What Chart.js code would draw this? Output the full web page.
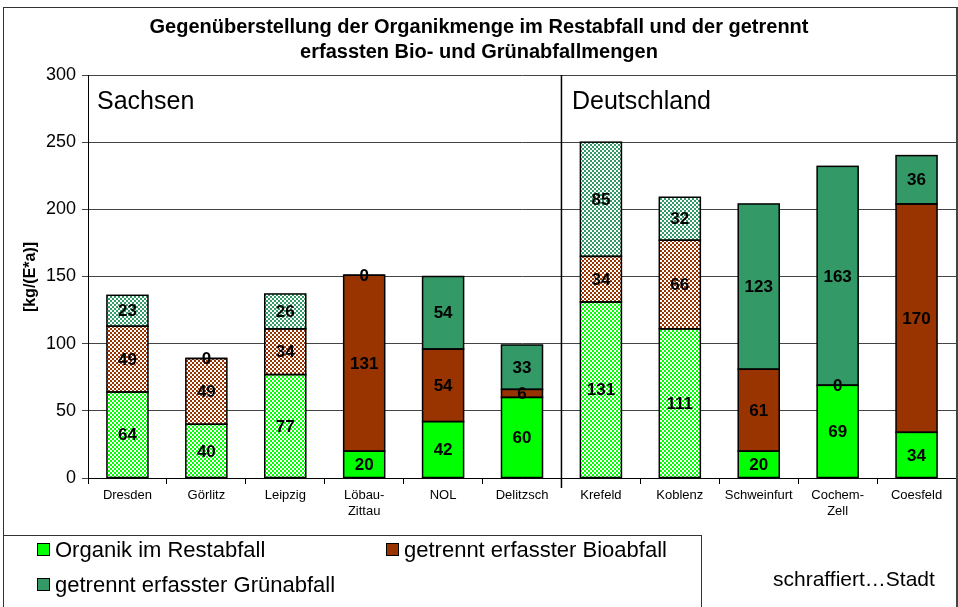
<!DOCTYPE html>
<html>
<head>
<meta charset="utf-8">
<script src="https://cdn.jsdelivr.net/npm/chart.js@4.4.1/dist/chart.umd.min.js"></script>
<style>
  body { margin: 0; background: #fff; font-family: Arial, "Liberation Sans", sans-serif; }
  #wrap { position: relative; width: 958px; height: 607px; overflow: hidden; }
  #chart { position: absolute; left: 0; top: 0; }
  .frame { position: absolute; left: 3px; top: 7px; width: 952px; height: 620px; border: 1px solid #333; border-right: 3px solid #444; }
  .title { position: absolute; left: 0; width: 958px; text-align: center; font-weight: bold; font-size: 20px; line-height: 25px; top: 14px; }
  .ytitle { position: absolute; left: 30px; top: 277px; transform: translate(-50%, -50%) rotate(-90deg); font-weight: bold; font-size: 16px; white-space: nowrap; }
  .region { position: absolute; font-size: 25px; line-height: 25px; }
  .legend { position: absolute; left: 3px; top: 535px; width: 697px; height: 80px; border: 1px solid #333; background: #fff; }
  .item { position: absolute; font-size: 22px; line-height: 24px; white-space: nowrap; }
  .item span { display: inline-block; width: 11px; height: 11px; border: 1px solid #000; margin-right: 5px; vertical-align: 1px; }
  .note { position: absolute; left: 773px; top: 567px; font-size: 21px; line-height: 24px; white-space: nowrap; }
</style>
</head>
<body>
<div id="wrap">
  <canvas id="chart" width="958" height="607"></canvas>
  <div class="frame"></div>
  <div class="title">Gegenüberstellung der Organikmenge im Restabfall und der getrennt<br>erfassten Bio- und Grünabfallmengen</div>
  <div class="ytitle">[kg/(E*a)]</div>
  <div class="region" style="left:97px;top:88px;">Sachsen</div>
  <div class="region" style="left:572px;top:88px;">Deutschland</div>
  <div class="legend">
    <div class="item" style="left:33px;top:2px;"><span style="background:#00ff00"></span>Organik im Restabfall</div>
    <div class="item" style="left:382px;top:2px;"><span style="background:#993300"></span>getrennt erfasster Bioabfall</div>
    <div class="item" style="left:33px;top:37px;"><span style="background:#339966"></span>getrennt erfasster Grünabfall</div>
  </div>
  <div class="note">schraffiert…Stadt</div>
</div>
<script>
// Kategorien und Werte (kg pro Einwohner und Jahr)
const cities = ["Dresden", "Görlitz", "Leipzig", ["Löbau-", "Zittau"], "NOL", "Delitzsch",
                "Krefeld", "Koblenz", "Schweinfurt", ["Cochem-", "Zell"], "Coesfeld"];
const organik = [64, 40, 77, 20, 42, 60, 131, 111, 20, 69, 34];
const bioabfall = [49, 49, 34, 131, 54, 6, 34, 66, 61, 0, 170];
const gruenabfall = [23, 0, 26, 0, 54, 33, 85, 32, 123, 163, 36];
// schraffiert = Stadt
const isCity = [true, true, true, false, false, false, true, true, false, false, false];
const yTicks = [0, 50, 100, 150, 200, 250, 300];

const canvas = document.getElementById("chart");
const ctx = canvas.getContext("2d");

function checker(color) {
    const c = document.createElement("canvas");
    c.width = 4; c.height = 4;
    const g = c.getContext("2d");
    g.fillStyle = color;
    g.fillRect(0, 0, 4, 4);
    g.fillStyle = "#ffffff";
    g.fillRect(0, 0, 2, 2);
    g.fillRect(2, 2, 2, 2);
    return ctx.createPattern(c, "repeat");
}

function fills(color) {
    const pat = checker(color);
    return isCity.map(h => h ? pat : color);
}

// schwarze Umrandung um jedes Segment + Werte mittig
const segLabels = {
    id: "segLabels",
    afterDatasetsDraw(chart) {
        const c = chart.ctx;
        c.save();
        c.strokeStyle = "#000";
        c.lineWidth = 1.5;
        chart.data.datasets.forEach((ds, i) => {
            chart.getDatasetMeta(i).data.forEach((bar) => {
                const p = bar.getProps(["x", "y", "base", "width"], true);
                c.strokeRect(p.x - p.width / 2, Math.min(p.y, p.base), p.width, Math.abs(p.base - p.y));
            });
        });
        c.font = "bold 17px Arial";
        c.fillStyle = "#000";
        c.textAlign = "center";
        c.textBaseline = "middle";
        chart.data.datasets.forEach((ds, i) => {
            chart.getDatasetMeta(i).data.forEach((bar, j) => {
                const p = bar.getProps(["x", "y", "base"], true);
                c.fillText(ds.data[j], p.x, (p.y + p.base) / 2 + 1);
            });
        });
        c.restore();
    }
};

// Trennlinie Sachsen / Deutschland
const divider = {
    id: "divider",
    afterDraw(chart) {
        const x = chart.scales.x;
        const px = (x.getPixelForValue(5) + x.getPixelForValue(6)) / 2;
        const c = chart.ctx;
        c.save();
        c.strokeStyle = "#000";
        c.lineWidth = 1.5;
        c.beginPath();
        c.moveTo(px, chart.chartArea.top);
        c.lineTo(px, chart.chartArea.bottom + 10);
        c.stroke();
        c.restore();
    }
};

new Chart(ctx, {
    type: "bar",
    data: {
        labels: cities,
        datasets: [
            { label: "Organik im Restabfall", data: organik, backgroundColor: fills("#00ff00") },
            { label: "getrennt erfasster Bioabfall", data: bioabfall, backgroundColor: fills("#993300") },
            { label: "getrennt erfasster Grünabfall", data: gruenabfall, backgroundColor: fills("#339966") }
        ]
    },
    options: {
        responsive: false,
        animation: false,
        layout: { padding: { top: 75, right: 2, left: 0, bottom: 0 } },
        datasets: {
            bar: {
                borderWidth: 0,
                categoryPercentage: 1,
                barPercentage: 0.52
            }
        },
        plugins: {
            legend: { display: false },
            tooltip: { enabled: false }
        },
        scales: {
            x: {
                stacked: true,
                afterFit: (s) => { s.height = 129; },
                grid: { display: true, drawOnChartArea: false, color: "#000", tickLength: 6 },
                border: { color: "#000", width: 1 },
                ticks: { color: "#000", font: { family: "Arial", size: 13 }, padding: 4, maxRotation: 0, autoSkip: false }
            },
            y: {
                stacked: true,
                min: 0,
                max: 300,
                afterFit: (s) => { s.width = 88; },
                afterBuildTicks: (s) => { s.ticks = yTicks.map(v => ({ value: v })); },
                grid: { color: "#444", tickLength: 6 },
                border: { color: "#000", width: 1 },
                ticks: { color: "#000", font: { family: "Arial", size: 18 }, padding: 6 }
            }
        }
    },
    plugins: [segLabels, divider]
});
</script>
</body>
</html>
